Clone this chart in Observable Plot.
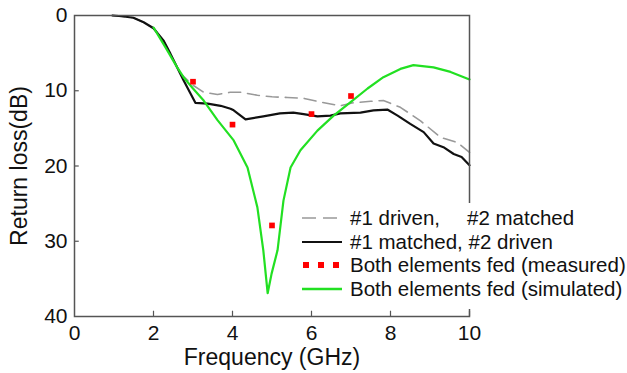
<!DOCTYPE html>
<html>
<head>
<meta charset="utf-8">
<script src="https://cdn.jsdelivr.net/npm/d3@7"></script>
<script src="https://cdn.jsdelivr.net/npm/@observablehq/plot@0.6"></script>
<style>
  html, body { margin: 0; padding: 0; background: #fff; }
  #chart { width: 627px; height: 373px; }
  svg { font-family: Arial, "Liberation Sans", sans-serif; }
</style>
</head>
<body>
<div id="chart"></div>
<script>
// Frequency (GHz) / return loss (dB)
const matchedFreq = [0.96,1.2,1.49,1.75,2.0,2.25,2.43,2.6,2.76,2.94,3.06,3.37,3.7,3.95,4.03,4.33,4.78,5.2,5.54,5.8,6.15,6.48,6.73,7.24,7.57,7.92,8.18,8.5,8.84,9.09,9.34,9.6,9.8,10];
const matchedLoss = [0,0.1,0.3,0.9,1.7,3.3,5.1,6.9,8.6,10.4,11.6,11.7,12.0,12.4,12.6,13.8,13.4,13.0,12.9,13.1,13.4,13.3,13.0,12.9,12.6,12.5,13.3,14.4,15.5,17.0,17.5,18.4,18.8,19.9];

const drivenFreq = [0.96,1.49,1.75,2.0,2.25,2.43,2.68,3.01,3.27,3.62,3.95,4.2,4.63,5.0,5.39,5.8,6.23,6.73,7.06,7.5,7.82,8.25,8.76,9.27,9.7,10];
const drivenLoss = [0,0.3,0.9,1.7,3.3,5.1,7.7,9.3,10.2,10.5,10.2,10.2,10.6,10.8,10.9,11.0,11.5,12.0,11.6,11.4,11.3,12.2,14.0,16.2,16.9,18.2];

const simFreq = [2.0,2.3,2.6,2.76,3.0,3.27,3.62,4.03,4.38,4.63,4.78,4.89,4.99,5.14,5.29,5.47,5.72,6.15,6.56,6.99,7.42,7.82,8.25,8.58,9.09,9.52,10];
const simLoss = [1.6,4.2,6.9,8.2,9.7,11.3,13.9,16.6,20.2,25.5,31.2,36.9,34.3,31.2,24.6,20.2,17.9,15.3,13.3,11.5,9.7,8.2,7.1,6.6,6.9,7.5,8.5];

const measFreq = [3,4,5,6,7];
const measLoss = [8.8,14.5,27.9,13.1,10.7];

const xTicks = [0,2,4,6,8,10];
const yTicks = [0,10,20,30,40];
const innerXTicks = [2,4,6,8,10];
const innerYTicks = [10,20,30];

const legendLabels = ["#1 driven,", "#1 matched, #2 driven", "Both elements fed (measured)", "Both elements fed (simulated)"];
const legendExtra = "#2 matched";

const zip = (xs, ys) => xs.map((x, i) => ({x, y: ys[i]}));
const matched = zip(matchedFreq, matchedLoss);
const driven = zip(drivenFreq, drivenLoss);
const sim = zip(simFreq, simLoss);
const meas = zip(measFreq, measLoss);

const axisColor = "#555";

const plot = Plot.plot({
  width: 627,
  height: 373,
  marginLeft: 74,
  marginRight: 158,
  marginTop: 15,
  marginBottom: 57,
  style: {fontFamily: "Arial, 'Liberation Sans', sans-serif", background: "#fff", color: "#111"},
  x: {domain: [0, 10]},
  y: {domain: [0, 40], reverse: true},
  marks: [
    Plot.ruleX(innerXTicks, {y1: 40, y2: 39.3, stroke: axisColor, strokeWidth: 1.2}),
    Plot.ruleY(innerYTicks, {x1: 0, x2: 0.12, stroke: axisColor, strokeWidth: 1.2}),
    Plot.line(driven, {x: "x", y: "y", stroke: "#999", strokeWidth: 1.6, strokeDasharray: "12,7"}),
    Plot.line(matched, {x: "x", y: "y", stroke: "#111", strokeWidth: 2.2}),
    Plot.line(sim, {x: "x", y: "y", stroke: "#22e022", strokeWidth: 2.2}),
    Plot.dot(meas, {x: "x", y: "y", symbol: "square", r: 3.2, fill: "#ff0000", stroke: "none"}),
    Plot.frame({stroke: axisColor, strokeWidth: 1.5}),
    Plot.axisX(xTicks, {tickSize: 0, tickPadding: 9, fontSize: 21, label: null}),
    Plot.axisY(yTicks, {tickSize: 0, tickPadding: 7, fontSize: 21, label: null}),
    Plot.axisX({ticks: [], tickSize: 0, fontSize: 23, label: "Frequency (GHz)", labelAnchor: "center", labelOffset: 48, labelArrow: "none"}),
    Plot.axisY({ticks: [], tickSize: 0, fontSize: 23, label: "Return loss(dB)", labelAnchor: "center", labelOffset: 64, labelArrow: "none"})
  ]
});

document.getElementById("chart").appendChild(plot);

// Legend (white box over the lower right corner of the frame)
const svg = d3.select(plot);
const g = svg.append("g")
  .attr("font-family", "Arial, 'Liberation Sans', sans-serif")
  .attr("font-size", 20.5)
  .attr("text-anchor", "start");
g.append("rect").attr("x", 296).attr("y", 203).attr("width", 331).attr("height", 106).attr("fill", "#fff");
const rowsY = [218, 242, 265, 289];
const sx0 = 302, sx1 = 342;
// row 1: dashed grey
g.append("line").attr("x1", sx0).attr("x2", sx1).attr("y1", rowsY[0]).attr("y2", rowsY[0])
  .attr("stroke", "#999").attr("stroke-width", 1.6).attr("stroke-dasharray", "14,7");
// row 2: black
g.append("line").attr("x1", sx0).attr("x2", sx1).attr("y1", rowsY[1]).attr("y2", rowsY[1])
  .attr("stroke", "#111").attr("stroke-width", 2.2);
// row 3: red squares
[303, 318, 333].forEach(x => g.append("rect").attr("x", x).attr("y", rowsY[2] - 3).attr("width", 6).attr("height", 6).attr("fill", "#ff0000"));
// row 4: green
g.append("line").attr("x1", sx0).attr("x2", sx1).attr("y1", rowsY[3]).attr("y2", rowsY[3])
  .attr("stroke", "#22e022").attr("stroke-width", 2.4);
legendLabels.forEach((t, i) => {
  g.append("text").attr("x", 350).attr("y", rowsY[i]).attr("dy", "0.35em").attr("fill", "#111").text(t);
});
g.append("text").attr("x", 467).attr("y", rowsY[0]).attr("dy", "0.35em").attr("fill", "#111").text(legendExtra);
</script>
</body>
</html>
